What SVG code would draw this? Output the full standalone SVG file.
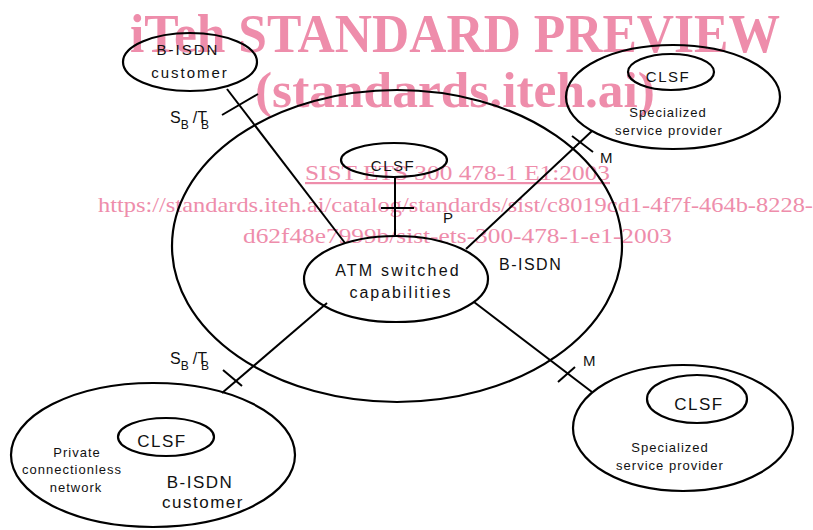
<svg xmlns="http://www.w3.org/2000/svg" width="813" height="530" viewBox="0 0 813 530">
<style>
.e{fill:none;stroke:#000;stroke-width:2.2}
.c{fill:none;stroke:#000;stroke-width:2}
.t{font-family:"Liberation Sans",Arial,sans-serif;fill:#111}
.s{letter-spacing:1px}
.w{font-family:"Liberation Serif","Times New Roman",serif;fill:#ee8dab}
.wb{font-weight:bold}
</style>
<rect width="813" height="530" fill="#fff"/>
<g id="watermark">
<text class="w wb" x="130" y="52" font-size="54" textLength="650" lengthAdjust="spacingAndGlyphs">iTeh STANDARD PREVIEW</text>
<text class="w wb" x="255" y="107" font-size="50" textLength="400" lengthAdjust="spacingAndGlyphs">(standards.iteh.ai)</text>
<text class="w" x="305" y="180" font-size="22" textLength="305" lengthAdjust="spacingAndGlyphs" text-decoration="underline">SIST ETS 300 478-1 E1:2003</text>
<text class="w" x="98" y="212" font-size="22" textLength="715" lengthAdjust="spacingAndGlyphs">https://standards.iteh.ai/catalog/standards/sist/c8019cd1-4f7f-464b-8228-</text>
<text class="w" x="243" y="243" font-size="22" textLength="429" lengthAdjust="spacingAndGlyphs">d62f48e7999b/sist-ets-300-478-1-e1-2003</text>
</g>
<g id="bisdn">
<ellipse class="e" cx="397" cy="246" rx="225" ry="156"/>
<text class="t" x="499" y="270" font-size="16" style="letter-spacing:1.5px">B-ISDN</text>
</g>
<g id="customer-top">
<ellipse class="e" cx="190" cy="62" rx="67" ry="29"/>
<text class="t" x="188" y="55" font-size="15" text-anchor="middle" style="letter-spacing:2px">B-ISDN</text>
<text class="t" x="190" y="78" font-size="15" text-anchor="middle" style="letter-spacing:2px">customer</text>
</g>
<g id="provider-top">
<ellipse class="e" cx="673" cy="97" rx="107" ry="52"/>
<ellipse class="e" cx="671" cy="72" rx="43" ry="18"/>
<text class="t" x="668" y="82" font-size="15" text-anchor="middle" style="letter-spacing:1.5px">CLSF</text>
<text class="t s" x="668" y="117" font-size="13" text-anchor="middle">Specialized</text>
<text class="t s" x="669" y="135" font-size="13" text-anchor="middle">service provider</text>
</g>
<g id="clsf-center">
<ellipse class="e" cx="394" cy="160" rx="53" ry="17"/>
<text class="t" x="393" y="171" font-size="15" text-anchor="middle" style="letter-spacing:1.5px">CLSF</text>
</g>
<g id="atm">
<ellipse class="e" cx="396" cy="279" rx="92" ry="43"/>
<text class="t" x="398" y="276" font-size="16" text-anchor="middle" style="letter-spacing:2.2px">ATM switched</text>
<text class="t" x="401" y="298" font-size="16" text-anchor="middle" style="letter-spacing:2px">capabilities</text>
</g>
<g id="customer-bottom">
<ellipse class="e" cx="153" cy="455" rx="142" ry="72"/>
<ellipse class="e" cx="166" cy="437" rx="48" ry="19"/>
<text class="t" x="162" y="447" font-size="17" text-anchor="middle" style="letter-spacing:1.5px">CLSF</text>
<text class="t s" x="77" y="457" font-size="13" text-anchor="middle">Private</text>
<text class="t s" x="72" y="474" font-size="13" text-anchor="middle">connectionless</text>
<text class="t s" x="76" y="492" font-size="13" text-anchor="middle">network</text>
<text class="t" x="200" y="488" font-size="17" text-anchor="middle" style="letter-spacing:1.5px">B-ISDN</text>
<text class="t" x="203" y="508" font-size="17" text-anchor="middle" style="letter-spacing:1.5px">customer</text>
</g>
<g id="provider-bottom">
<ellipse class="e" cx="683" cy="428" rx="110" ry="63"/>
<ellipse class="e" cx="697" cy="399" rx="50" ry="24"/>
<text class="t" x="699" y="410" font-size="17" text-anchor="middle" style="letter-spacing:1.5px">CLSF</text>
<text class="t s" x="670" y="452" font-size="13" text-anchor="middle">Specialized</text>
<text class="t s" x="670" y="470" font-size="13" text-anchor="middle">service provider</text>
</g>
<g id="connectors">
<line class="c" x1="227" y1="89" x2="345" y2="243"/>
<line class="c" x1="222" y1="115" x2="258" y2="94"/>
<line class="c" x1="395" y1="178" x2="395" y2="237"/>
<line class="c" x1="381" y1="208" x2="414" y2="208"/>
<line class="c" x1="466" y1="249" x2="592" y2="131"/>
<line class="c" x1="572" y1="136" x2="593" y2="152"/>
<line class="c" x1="327" y1="303" x2="222" y2="393"/>
<line class="c" x1="223" y1="370" x2="242" y2="386"/>
<line class="c" x1="474" y1="302" x2="592" y2="392"/>
<line class="c" x1="558" y1="382" x2="575" y2="367"/>
</g>
<g id="labels">
<text class="t" x="170" y="123" font-size="16">S<tspan font-size="12" dy="6">B</tspan><tspan dy="-6" dx="4">/T</tspan><tspan font-size="12" dy="6" dx="-6">B</tspan></text>
<text class="t" x="170" y="364" font-size="16">S<tspan font-size="12" dy="6">B</tspan><tspan dy="-6" dx="4">/T</tspan><tspan font-size="12" dy="6" dx="-6">B</tspan></text>
<text class="t" x="443" y="223" font-size="15">P</text>
<text class="t" x="600" y="163" font-size="15">M</text>
<text class="t" x="583" y="366" font-size="15">M</text>
</g>
</svg>
